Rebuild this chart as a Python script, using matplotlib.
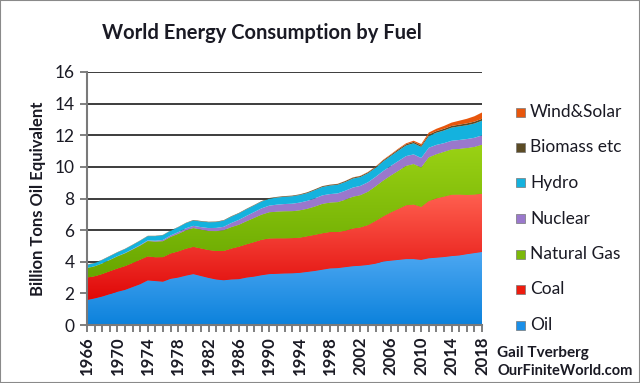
import matplotlib
matplotlib.use('Agg')
import matplotlib.pyplot as plt
import numpy as np
from matplotlib.patches import Rectangle
from matplotlib.path import Path
from matplotlib.colors import LinearSegmentedColormap

years = list(range(1966, 2019))
oil = [1.58, 1.68, 1.80, 1.95, 2.10, 2.22, 2.40, 2.58, 2.82, 2.78,
       2.74, 2.92, 3.00, 3.12, 3.22, 3.10, 2.98, 2.88, 2.83, 2.88,
       2.90, 3.00, 3.06, 3.15, 3.22, 3.24, 3.26, 3.27, 3.30, 3.36,
       3.42, 3.50, 3.58, 3.60, 3.66, 3.72, 3.75, 3.80, 3.88, 4.02,
       4.07, 4.12, 4.17, 4.17, 4.12, 4.22, 4.26, 4.30, 4.36, 4.40,
       4.48, 4.55, 4.62]
coal = [1.42, 1.40, 1.42, 1.45, 1.47, 1.50, 1.52, 1.55, 1.52, 1.50,
        1.55, 1.60, 1.65, 1.70, 1.72, 1.74, 1.76, 1.80, 1.85, 1.95,
        2.05, 2.10, 2.18, 2.24, 2.25, 2.24, 2.22, 2.22, 2.22, 2.25,
        2.28, 2.30, 2.30, 2.28, 2.30, 2.38, 2.42, 2.52, 2.70, 2.85,
        3.05, 3.22, 3.40, 3.45, 3.35, 3.62, 3.75, 3.82, 3.88, 3.85,
        3.75, 3.70, 3.68]
gas = [0.59, 0.62, 0.66, 0.70, 0.76, 0.80, 0.84, 0.88, 0.96, 0.98,
       1.00, 1.04, 1.10, 1.15, 1.18, 1.18, 1.20, 1.25, 1.30, 1.35,
       1.38, 1.45, 1.52, 1.58, 1.65, 1.68, 1.70, 1.70, 1.72, 1.73,
       1.78, 1.85, 1.85, 1.88, 1.95, 2.00, 2.03, 2.10, 2.18, 2.25,
       2.32, 2.40, 2.48, 2.55, 2.48, 2.75, 2.78, 2.82, 2.85, 2.88,
       2.95, 3.00, 3.09]
nuclear = [0.01, 0.01, 0.01, 0.02, 0.02, 0.03, 0.04, 0.05, 0.05, 0.07,
           0.09, 0.10, 0.12, 0.14, 0.15, 0.17, 0.19, 0.21, 0.23, 0.27,
           0.32, 0.35, 0.38, 0.41, 0.43, 0.45, 0.47, 0.48, 0.50, 0.51,
           0.53, 0.55, 0.55, 0.56, 0.58, 0.59, 0.60, 0.61, 0.61, 0.62,
           0.62, 0.63, 0.63, 0.62, 0.61, 0.62, 0.60, 0.56, 0.56, 0.57,
           0.58, 0.59, 0.60]
hydro = [0.20, 0.21, 0.22, 0.23, 0.24, 0.25, 0.26, 0.27, 0.27, 0.29,
         0.30, 0.30, 0.31, 0.33, 0.34, 0.36, 0.37, 0.37, 0.39, 0.40,
         0.41, 0.42, 0.42, 0.43, 0.44, 0.45, 0.46, 0.47, 0.48, 0.49,
         0.52, 0.53, 0.54, 0.55, 0.55, 0.57, 0.56, 0.57, 0.57, 0.61,
         0.63, 0.66, 0.67, 0.70, 0.70, 0.74, 0.77, 0.80, 0.83, 0.86,
         0.87, 0.90, 0.93]
biomass = [0.02, 0.02, 0.02, 0.02, 0.02, 0.02, 0.02, 0.02, 0.02, 0.02,
           0.02, 0.02, 0.02, 0.02, 0.03, 0.03, 0.03, 0.03, 0.03, 0.03,
           0.03, 0.03, 0.03, 0.03, 0.04, 0.04, 0.04, 0.04, 0.04, 0.05,
           0.05, 0.05, 0.05, 0.05, 0.06, 0.06, 0.06, 0.06, 0.06, 0.07,
           0.07, 0.08, 0.08, 0.09, 0.09, 0.10, 0.10, 0.11, 0.11, 0.11,
           0.12, 0.12, 0.12]
wind_solar = [0.0, 0.0, 0.0, 0.0, 0.0, 0.0, 0.0, 0.0, 0.0, 0.0,
              0.0, 0.0, 0.0, 0.0, 0.0, 0.0, 0.0, 0.0, 0.0, 0.0,
              0.0, 0.0, 0.0, 0.0, 0.002, 0.002, 0.003, 0.003, 0.004, 0.004,
              0.005, 0.006, 0.008, 0.010, 0.012, 0.015, 0.018, 0.022, 0.027, 0.033,
              0.040, 0.050, 0.060, 0.075, 0.095, 0.120, 0.150, 0.180, 0.210, 0.250,
              0.290, 0.340, 0.400]

series_names = ['Oil', 'Coal', 'Natural Gas', 'Nuclear', 'Hydro', 'Biomass etc', 'Wind&Solar']
series = [oil, coal, gas, nuclear, hydro, biomass, wind_solar]
colors = ['#1a8fe8', '#ee1c0e', '#7cb90a', '#9a78cc', '#14b2de', '#5b4b25', '#e8560c']
# vertical gradient (bottom colour, top colour) for the big series
gradients = {0: ('#0c82dc', '#4ea8f2'), 1: ('#e00808', '#ff6050'), 2: ('#67a600', '#9ad214')}
xtick_years = list(range(1966, 2019, 4))
ytick_vals = list(range(0, 17, 2))

FONT = 'Lato'
TXT = '#1a1a24'

fig = plt.figure(figsize=(6.4, 3.83), dpi=100)
fig.patch.set_facecolor('white')
W, H = 640, 383
ax = fig.add_axes([87 / W, 1 - 325 / H, (482 - 87) / W, (325 - 72) / H])

polys = ax.stackplot(years, *series, colors=colors, linewidth=0, zorder=2)

x = np.array(years, dtype=float)
cum = np.vstack([np.zeros(len(years)), np.cumsum(np.array(series), axis=0)])
for idx, (c0, c1) in gradients.items():
    lo_line = cum[idx]
    hi_line = cum[idx + 1]
    verts = np.concatenate([np.column_stack([x, lo_line]),
                            np.column_stack([x[::-1], hi_line[::-1]]),
                            [[x[0], lo_line[0]]]])
    codes = [Path.MOVETO] + [Path.LINETO] * (len(verts) - 2) + [Path.CLOSEPOLY]
    path = Path(verts, codes)
    cmap = LinearSegmentedColormap.from_list('g%d' % idx, [c0, c1])
    grad = np.linspace(0, 1, 256).reshape(-1, 1)
    im = ax.imshow(grad, cmap=cmap, origin='lower', aspect='auto',
                   extent=[years[0], years[-1], lo_line.min(), hi_line.max()],
                   zorder=2.5, interpolation='bilinear')
    im.set_clip_path(path, transform=ax.transData)

ax.set_xlim(1966, 2018)
ax.set_ylim(0, 16)
ax.set_yticks(ytick_vals)
ax.yaxis.grid(True, color='#3c3c3c', linewidth=1.4, zorder=0)
ax.set_axisbelow(True)
for s in ['top', 'right']:
    ax.spines[s].set_visible(False)
ax.spines['left'].set_color('#7a7a7a')
ax.spines['left'].set_linewidth(1.5)
ax.spines['bottom'].set_color('#7a7a7a')
ax.spines['bottom'].set_linewidth(1.5)

ax.set_xticks(xtick_years)
ax.set_xticks(years, minor=True)
ax.set_xticklabels([str(y) for y in xtick_years], rotation=90,
                   fontsize=12, fontweight='bold', family=FONT, color=TXT)
ax.set_yticklabels([str(v) for v in ytick_vals], fontsize=12.5,
                   family=FONT, color=TXT)
ax.tick_params(axis='x', which='both', direction='out', length=5,
               color='#6a6a6a', width=1.2, pad=3)
ax.tick_params(axis='y', direction='out', length=5, color='#6a6a6a',
               width=1.2, pad=4)
ax.set_ylabel('Billion Tons Oil Equivalent', fontsize=12, fontweight='bold',
              family=FONT, color=TXT, labelpad=6)

fig.text(262 / W, 1 - 33 / H, 'World Energy Consumption by Fuel', ha='center',
         va='center', fontsize=14.5, fontweight='bold', family=FONT, color=TXT)

# legend (top entry = last series)
leg_y0 = 112
leg_dy = 35.5
for i, (name, col) in enumerate(zip(series_names[::-1], colors[::-1])):
    yc = leg_y0 + i * leg_dy
    fig.patches.append(Rectangle((516 / W, 1 - (yc + 4.5) / H), 9 / W, 9 / H,
                                 transform=fig.transFigure, facecolor=col,
                                 edgecolor='#777777', linewidth=0.5))
    fig.text(530 / W, 1 - yc / H, name, ha='left', va='center', fontsize=12.5,
             family=FONT, color=TXT)

fig.text(497 / W, 1 - 353 / H, 'Gail Tverberg', ha='left', va='center',
         fontsize=11, fontweight='bold', family=FONT, color=TXT)
fig.text(497 / W, 1 - 371 / H, 'OurFiniteWorld.com', ha='left', va='center',
         fontsize=10.5, fontweight='bold', family=FONT, color=TXT)

# thin frame around image
fig.patches.append(Rectangle((0, 0), 1, 1, transform=fig.transFigure,
                             fill=False, edgecolor='#8a8a8a', linewidth=1.5))

fig.savefig('out.png', dpi=100)
